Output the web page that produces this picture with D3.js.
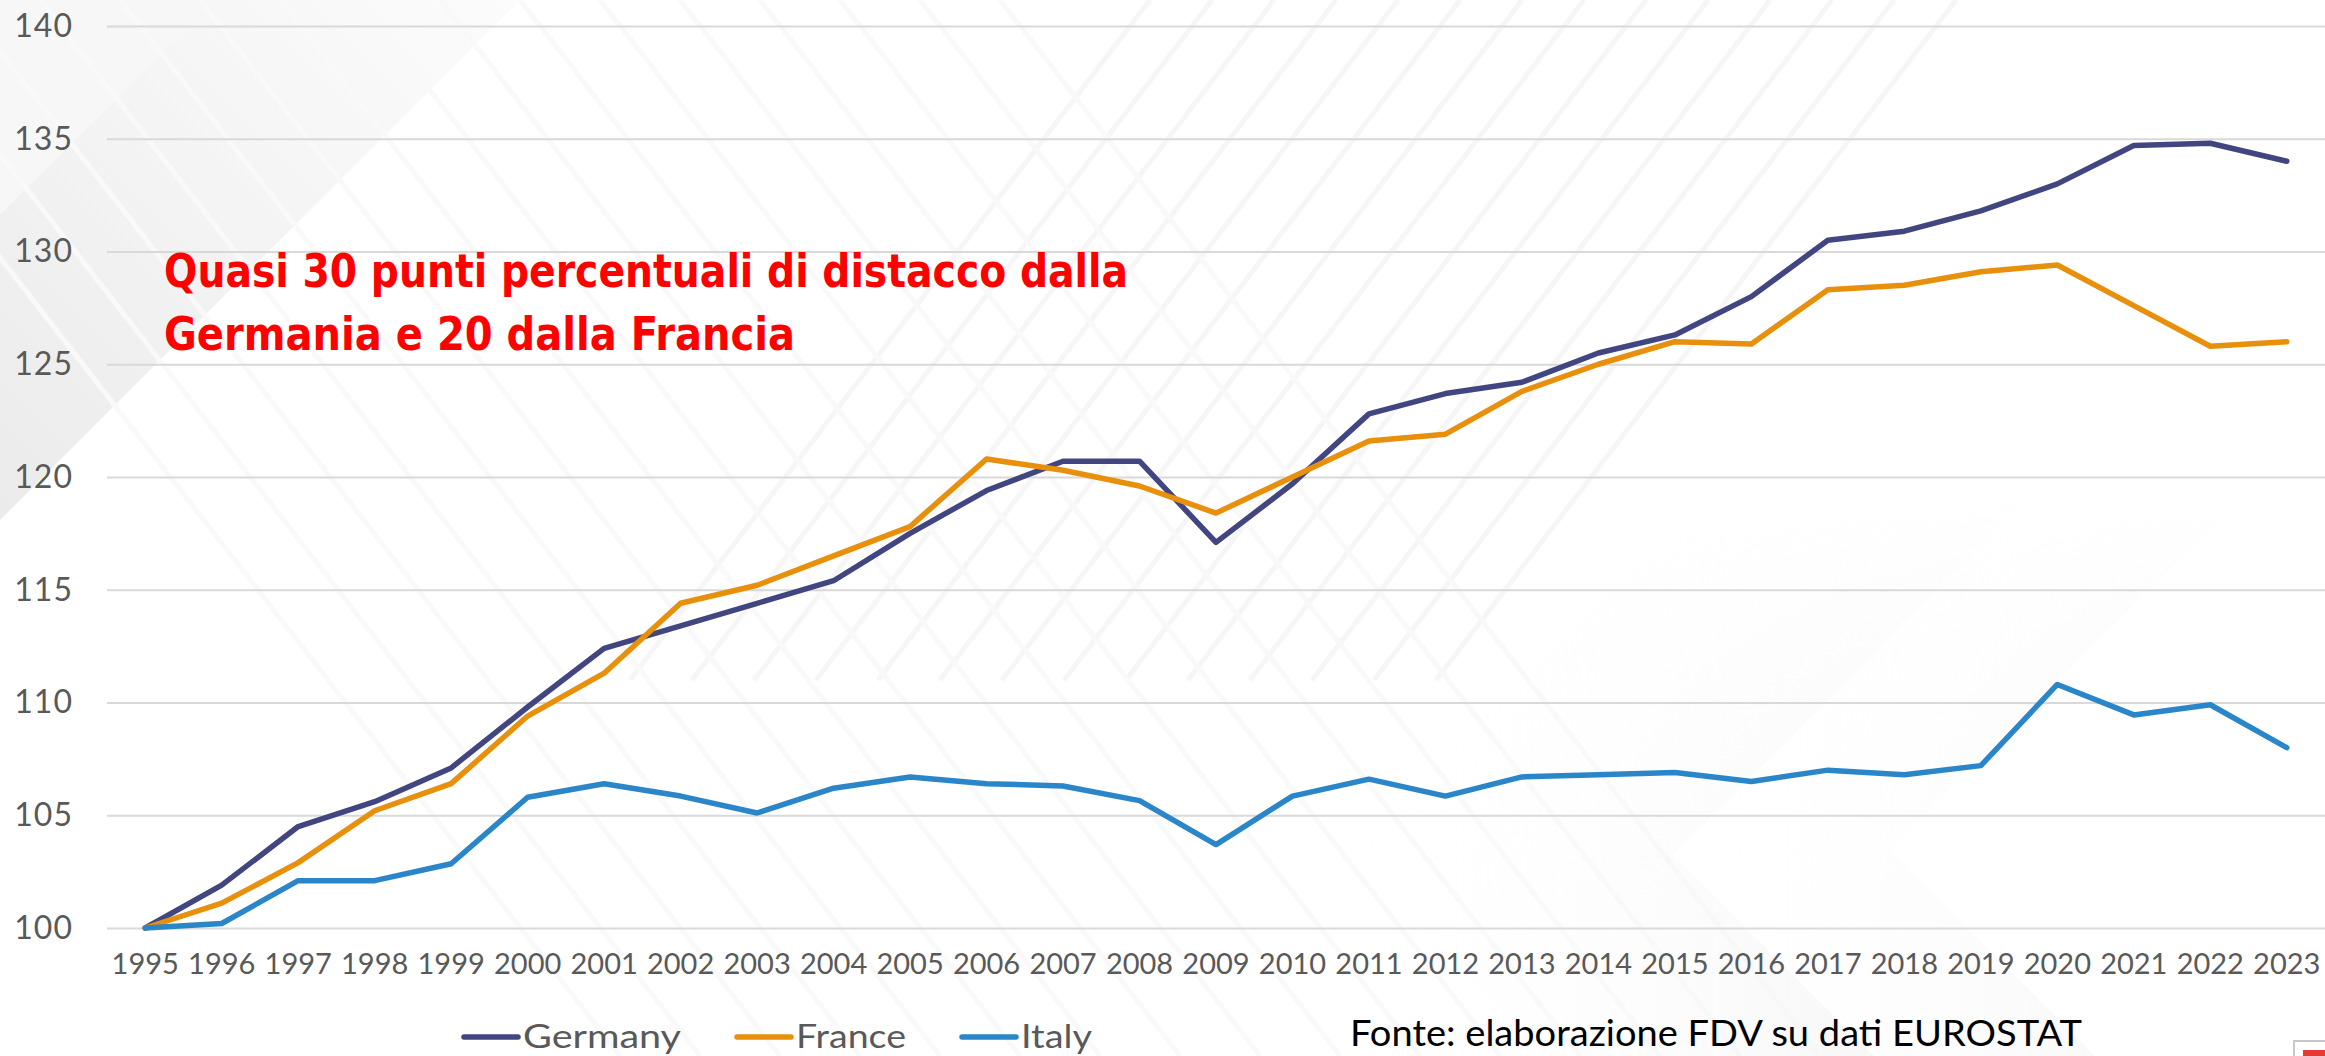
<!DOCTYPE html>
<html>
<head>
<meta charset="utf-8">
<script src="https://cdn.jsdelivr.net/npm/d3@7"></script>
<style>
  html, body { margin: 0; padding: 0; background: #fff; overflow: hidden; }
  svg { display: block; }
</style>
</head>
<body>
<script>
// data (index, 1995 = 100)
var years = ["1995","1996","1997","1998","1999","2000","2001","2002","2003","2004",
             "2005","2006","2007","2008","2009","2010","2011","2012","2013","2014",
             "2015","2016","2017","2018","2019","2020","2021","2022","2023"];

var germany = [100, 101.9, 104.5, 105.6, 107.1, 109.8, 112.4, 113.4, 114.4, 115.4,
               117.5, 119.4, 120.7, 120.7, 117.1, 119.7, 122.8, 123.7, 124.2, 125.5,
               126.3, 128.0, 130.5, 130.9, 131.8, 133.0, 134.7, 134.8, 134.0];

var france = [100, 101.1, 102.9, 105.2, 106.4, 109.4, 111.3, 114.4, 115.2, 116.5,
              117.8, 120.8, 120.3, 119.6, 118.4, 120.0, 121.6, 121.9, 123.8, 125.0,
              126.0, 125.9, 128.3, 128.5, 129.1, 129.4, 127.6, 125.8, 126.0];

var italy = [100, 100.2, 102.1, 102.1, 102.85, 105.8, 106.4, 105.85, 105.1, 106.2,
             106.7, 106.4, 106.3, 105.65, 103.7, 105.85, 106.6, 105.85, 106.7, 106.8,
             106.9, 106.5, 107.0, 106.8, 107.2, 110.8, 109.45, 109.9, 108.0];

var seriesNames = ["Germany", "France", "Italy"];
var seriesColors = ["#424680", "#E8900C", "#2A86C8"];
var yTicks = [100, 105, 110, 115, 120, 125, 130, 135, 140];

var noteLines = ["Quasi 30 punti percentuali di distacco dalla", "Germania e 20 dalla Francia"];
var sourceText = "Fonte: elaborazione FDV su dati EUROSTAT";

var W = 2325, H = 1056;
var plot = {left: 107, right: 2325, top: 26, bottom: 928};

var svg = d3.select("body").append("svg")
    .attr("width", W)
    .attr("height", H);

var defs = svg.append("defs");

var g1 = defs.append("linearGradient").attr("id", "tl")
    .attr("x1", 0).attr("y1", 1).attr("x2", 1).attr("y2", 0);
g1.append("stop").attr("offset", 0).attr("stop-color", "#ebebeb");
g1.append("stop").attr("offset", 1).attr("stop-color", "#fcfcfc");

var g2 = defs.append("linearGradient").attr("id", "chev")
    .attr("x1", 0).attr("y1", 0).attr("x2", 1).attr("y2", 0);
g2.append("stop").attr("offset", 0).attr("stop-color", "#ffffff").attr("stop-opacity", 0);
g2.append("stop").attr("offset", 0.6).attr("stop-color", "#f1f1f1").attr("stop-opacity", 1);
g2.append("stop").attr("offset", 1).attr("stop-color", "#e6e6e6").attr("stop-opacity", 1);

// vertical fade for the bottom chevrons
var fade = defs.append("linearGradient").attr("id", "fade")
    .attr("gradientUnits", "userSpaceOnUse")
    .attr("x1", 0).attr("y1", 500).attr("x2", 0).attr("y2", 900);
fade.append("stop").attr("offset", 0).attr("stop-color", "#000");
fade.append("stop").attr("offset", 1).attr("stop-color", "#fff");
defs.append("mask").attr("id", "fadeMask")
  .append("rect").attr("width", W).attr("height", H).attr("fill", "url(#fade)");

// background decoration (slide theme)
var bg = svg.append("g").attr("class", "bg");
bg.append("rect").attr("width", W).attr("height", H).attr("fill", "#ffffff");
bg.append("polygon")
    .attr("points", "0,0 520,0 0,520")
    .attr("fill", "url(#tl)");
bg.append("polygon")
    .attr("points", "0,0 215,0 0,215")
    .attr("fill", "#f7f7f7");

// faint "/" stripes at the top
d3.range(0, 14).forEach(function(i) {
  var x0 = 1150 + i * 62;
  bg.append("line")
    .attr("x1", x0).attr("y1", 0)
    .attr("x2", x0 - 520).attr("y2", 680)
    .attr("stroke", "#f6f6f6").attr("stroke-width", 5);
});
// faint "\" stripes across the middle
d3.range(0, 16).forEach(function(i) {
  var x0 = -200 + i * 80;
  bg.append("line")
    .attr("x1", x0).attr("y1", 0)
    .attr("x2", x0 + 820).attr("y2", 1056)
    .attr("stroke", "#f9f9f9").attr("stroke-width", 5);
});

// chevron bands bottom right
function chevronBand(xl, xr, vy) {
  var up = vy, down = H - vy;
  return [[xl + up, vy - up], [xl, vy], [xl + down, H], [xr + down, H], [xr, vy], [xr + up, vy - up]]
    .map(function(p) { return p.join(","); }).join(" ");
}
var chev = bg.append("g").attr("mask", "url(#fadeMask)");
chev.append("polygon").attr("points", chevronBand(1345, 1673, 855)).attr("fill", "url(#chev)");
chev.append("polygon").attr("points", chevronBand(1673, 1889, 850)).attr("fill", "url(#chev)");

// scales
var x = d3.scaleBand().domain(years).range([plot.left, plot.right]);
var y = d3.scaleLinear().domain([100, 140]).range([plot.bottom, plot.top]);
var cx = function(d) { return x(d) + x.bandwidth() / 2; };

// y axis with gridlines
var yAxis = svg.append("g")
    .attr("transform", "translate(" + plot.left + ",0)")
    .call(d3.axisLeft(y).tickValues(yTicks).tickSize(-(plot.right - plot.left)).tickPadding(34));
yAxis.select(".domain").remove();
yAxis.selectAll(".tick line").attr("stroke", "#d9d9d9").attr("stroke-width", 2);
yAxis.selectAll(".tick text")
    .attr("fill", "#595959")
    .style("font-family", "Lato, 'Open Sans', sans-serif")
    .style("font-size", "32px")
    .style("letter-spacing", "1px");

// x axis
var xAxis = svg.append("g")
    .attr("transform", "translate(0," + plot.bottom + ")")
    .call(d3.axisBottom(x).tickSize(0).tickPadding(25));
xAxis.select(".domain").remove();
xAxis.selectAll(".tick text")
    .attr("fill", "#595959")
    .style("font-family", "Lato, 'Open Sans', sans-serif")
    .style("font-size", "29px");

// lines
var series = [germany, france, italy];
var line = d3.line()
    .x(function(d, i) { return cx(years[i]); })
    .y(function(d) { return y(d); });

svg.append("g").selectAll("path")
  .data(series)
  .join("path")
    .attr("d", line)
    .attr("fill", "none")
    .attr("stroke", function(d, i) { return seriesColors[i]; })
    .attr("stroke-width", 5.5)
    .attr("stroke-linecap", "round")
    .attr("stroke-linejoin", "round");

// annotation
var note = svg.append("g")
    .style("font-family", "'Liberation Sans Narrow', 'DejaVu Sans Condensed', 'Liberation Sans', sans-serif")
    .style("font-weight", "bold")
    .style("font-size", "46px")
    .attr("fill", "#ff0000");
var noteWidths = [964, 631];
noteLines.forEach(function(t, i) {
  note.append("text")
    .attr("x", 164)
    .attr("y", 287 + i * 63)
    .attr("textLength", noteWidths[i])
    .attr("lengthAdjust", "spacingAndGlyphs")
    .text(t);
});

// legend
var legendWidths = [158, 110, 71];
var legend = svg.append("g");
var lx = 464, ly = 1037;
seriesNames.forEach(function(name, i) {
  legend.append("line")
    .attr("x1", lx).attr("x2", lx + 54)
    .attr("y1", ly).attr("y2", ly)
    .attr("stroke", seriesColors[i])
    .attr("stroke-width", 5.5)
    .attr("stroke-linecap", "round");
  legend.append("text")
    .attr("x", lx + 59)
    .attr("y", ly + 11)
    .attr("fill", "#595959")
    .style("font-family", "Lato, 'Open Sans', sans-serif")
    .style("font-size", "33px")
    .attr("textLength", legendWidths[i])
    .attr("lengthAdjust", "spacingAndGlyphs")
    .text(name);
  lx += 59 + legendWidths[i] + 56;
});

// source (kept inside the picture)
svg.append("text")
    .attr("x", 1350)
    .attr("y", 1046)
    .attr("fill", "#000")
    .style("font-family", "Lato, 'Open Sans', sans-serif")
    .style("font-size", "37px")
    .attr("textLength", 732)
    .attr("lengthAdjust", "spacingAndGlyphs")
    .text(sourceText);

// small slide marker bottom right
svg.append("rect")
    .attr("x", 2294).attr("y", 1041).attr("width", 40).attr("height", 30)
    .attr("fill", "#fff").attr("stroke", "#c8c8c8").attr("stroke-width", 2);
svg.append("rect")
    .attr("x", 2303).attr("y", 1050).attr("width", 30).attr("height", 20)
    .attr("fill", "#e53935");
</script>
</body>
</html>
